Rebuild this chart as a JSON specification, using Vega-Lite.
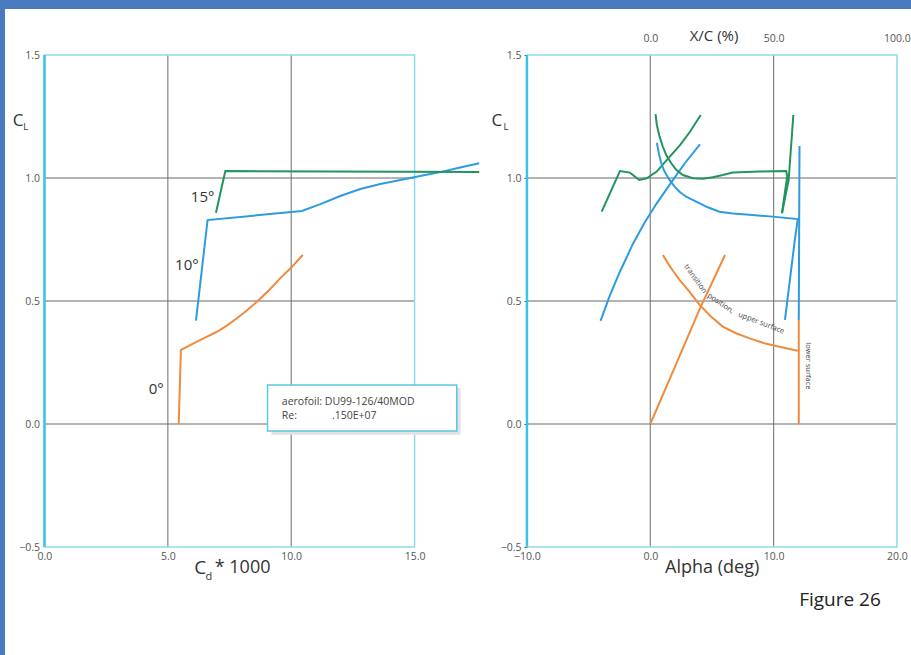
{
  "$schema": "https://vega.github.io/schema/vega-lite/v6.json",
  "autosize": {"type": "none"},
  "width": 906,
  "height": 646,
  "padding": {"left": 5, "top": 9, "right": 0, "bottom": 0},
  "background": "#4a7bbf",
  "view": {"fill": "white", "stroke": null},
  "config": {
    "axis": {"labelFont": "Open Sans", "labelColor": "#555", "labelFontSize": 10.5, "title": null, "grid": false, "domain": false},
    "text": {"font": "Open Sans", "color": "#333"}
  },
  "resolve": {"scale": {"x": "independent", "y": "independent"}, "axis": {"x": "independent", "y": "independent"}},
  "layer": [
    {
      "encoding": {
        "x": {"field": "x", "type": "quantitative", "scale": {"domain": [-1.6, 35.12], "nice": false, "zero": false},
              "axis": {"orient": "bottom", "offset": -108, "values": [0, 5, 10, 15], "format": ".1f", "ticks": false, "labelPadding": 4}},
        "y": {"field": "y", "type": "quantitative", "scale": {"domain": [-0.939, 1.687], "nice": false, "zero": false},
              "axis": {"orient": "left", "offset": -39.5, "values": [-0.5, 0, 0.5, 1, 1.5], "format": ".1f", "ticks": false, "labelPadding": 5}}
      },
      "layer": [
        {"data": {"values": [{"x": 5, "y": -0.5, "y2": 1.5}, {"x": 10, "y": -0.5, "y2": 1.5}]},
         "mark": {"type": "rule", "color": "#858585", "strokeWidth": 1.2},
         "encoding": {"y2": {"field": "y2"}}},
        {"data": {"values": [{"y": 0, "x": 0, "x2": 15}, {"y": 0.5, "x": 0, "x2": 15}, {"y": 1, "x": 0, "x2": 15}]},
         "mark": {"type": "rule", "color": "#6a6a6a", "strokeWidth": 1.1},
         "encoding": {"x2": {"field": "x2"}}},
        {"data": {"values": [{"x": 0, "x2": 15, "y": -0.5, "y2": 1.5}]},
         "mark": {"type": "rect", "fill": "transparent", "stroke": "#8fdbeb", "strokeWidth": 1.5},
         "encoding": {"x2": {"field": "x2"}, "y2": {"field": "y2"}}},
        {"data": {"values": [{"x": 0, "y": -0.5, "y2": 1.5}]},
         "mark": {"type": "rule", "color": "#3cc2e8", "strokeWidth": 2.5},
         "encoding": {"y2": {"field": "y2"}}},
        {"data": {"values": [{"x": 9.2, "x2": 16.86, "y": 0.146, "y2": -0.044}]},
         "mark": {"type": "rect", "fill": "#e2e2e2"},
         "encoding": {"x2": {"field": "x2"}, "y2": {"field": "y2"}}},
        {"data": {"values": [{"x": 9.04, "x2": 16.71, "y": 0.159, "y2": -0.028}]},
         "mark": {"type": "rect", "fill": "white", "stroke": "#5cc6e6", "strokeWidth": 1.5},
         "encoding": {"x2": {"field": "x2"}, "y2": {"field": "y2"}}},
        {"data": {"values": [
          {"s": "o", "x": 5.44, "y": 0}, {"s": "o", "x": 5.53, "y": 0.301}, {"s": "o", "x": 5.77, "y": 0.314},
          {"s": "o", "x": 6.04, "y": 0.328}, {"s": "o", "x": 6.51, "y": 0.351}, {"s": "o", "x": 6.99, "y": 0.375},
          {"s": "o", "x": 7.39, "y": 0.4}, {"s": "o", "x": 7.8, "y": 0.43}, {"s": "o", "x": 8.2, "y": 0.461},
          {"s": "o", "x": 8.61, "y": 0.497}, {"s": "o", "x": 9.08, "y": 0.542}, {"s": "o", "x": 9.55, "y": 0.592},
          {"s": "o", "x": 10.03, "y": 0.639}, {"s": "o", "x": 10.47, "y": 0.687},
          {"s": "b", "x": 6.14, "y": 0.42}, {"s": "b", "x": 6.61, "y": 0.829}, {"s": "b", "x": 10.43, "y": 0.866},
          {"s": "b", "x": 11.18, "y": 0.894}, {"s": "b", "x": 11.99, "y": 0.927}, {"s": "b", "x": 12.8, "y": 0.955},
          {"s": "b", "x": 13.61, "y": 0.976}, {"s": "b", "x": 14.42, "y": 0.992}, {"s": "b", "x": 15.23, "y": 1.008},
          {"s": "b", "x": 16.04, "y": 1.024}, {"s": "b", "x": 16.85, "y": 1.043}, {"s": "b", "x": 17.62, "y": 1.06},
          {"s": "g", "x": 6.95, "y": 0.859}, {"s": "g", "x": 7.33, "y": 1.028}, {"s": "g", "x": 17.62, "y": 1.024}
        ]},
         "mark": {"type": "line", "strokeWidth": 2},
         "encoding": {"color": {"field": "s", "type": "nominal", "scale": {"domain": ["g", "b", "o"], "range": ["#22945e", "#2d9be0", "#f08a3c"]}, "legend": null},
                      "order": {"value": null}}},
        {"data": {"values": [{"x": 6.41, "y": 0.924, "t": "15°"}, {"x": 5.77, "y": 0.646, "t": "10°"}, {"x": 4.53, "y": 0.142, "t": "0°"}]},
         "mark": {"type": "text", "fontSize": 15, "align": "center", "baseline": "middle"},
         "encoding": {"text": {"field": "t"}}},
        {"data": {"values": [{"x": 9.62, "y": 0.0907, "t": "aerofoil: DU99-126/40MOD"}, {"x": 9.62, "y": 0.0325, "t": "Re:"}, {"x": 11.65, "y": 0.0325, "t": ".150E+07"}]},
         "mark": {"type": "text", "fontSize": 10.5, "align": "left", "baseline": "middle", "color": "#444"},
         "encoding": {"text": {"field": "t"}}},
        {"data": {"values": [{"x": -1.07, "y": 1.232, "t": "C"}]},
         "mark": {"type": "text", "fontSize": 17, "align": "center", "baseline": "middle"},
         "encoding": {"text": {"field": "t"}}},
        {"data": {"values": [{"x": -0.76, "y": 1.208, "t": "L"}]},
         "mark": {"type": "text", "fontSize": 9.5, "align": "center", "baseline": "middle"},
         "encoding": {"text": {"field": "t"}}},
        {"data": {"values": [{"x": 6.31, "y": -0.587, "t": "C"}]},
         "mark": {"type": "text", "fontSize": 19, "align": "center", "baseline": "middle"},
         "encoding": {"text": {"field": "t"}}},
        {"data": {"values": [{"x": 6.66, "y": -0.62, "t": "d"}]},
         "mark": {"type": "text", "fontSize": 11, "align": "center", "baseline": "middle"},
         "encoding": {"text": {"field": "t"}}},
        {"data": {"values": [{"x": 6.9, "y": -0.587, "t": "* 1000"}]},
         "mark": {"type": "text", "fontSize": 18, "align": "left", "baseline": "middle"},
         "encoding": {"text": {"field": "t"}}}
      ]
    },
    {
      "encoding": {
        "x": {"field": "x", "type": "quantitative", "scale": {"domain": [-52.32, 21.14], "nice": false, "zero": false},
              "axis": {"orient": "bottom", "offset": -108, "values": [-10, 0, 10, 20], "format": ".1f", "ticks": false, "labelPadding": 4}},
        "y": {"field": "y", "type": "quantitative", "scale": {"domain": [-0.939, 1.687], "nice": false, "zero": false},
              "axis": {"orient": "left", "offset": -522, "values": [-0.5, 0, 0.5, 1, 1.5], "format": ".1f", "ticks": true, "tickSize": 3, "tickColor": "#555", "labelPadding": 3}}
      },
      "layer": [
        {"data": {"values": [{"x": 0, "y": -0.5, "y2": 1.5}, {"x": 10, "y": -0.5, "y2": 1.5}]},
         "mark": {"type": "rule", "color": "#858585", "strokeWidth": 1.2},
         "encoding": {"y2": {"field": "y2"}}},
        {"data": {"values": [{"y": 0, "x": -10, "x2": 20}, {"y": 0.5, "x": -10, "x2": 20}, {"y": 1, "x": -10, "x2": 20}]},
         "mark": {"type": "rule", "color": "#6a6a6a", "strokeWidth": 1.1},
         "encoding": {"x2": {"field": "x2"}}},
        {"data": {"values": [{"x": -10, "x2": 20, "y": -0.5, "y2": 1.5}]},
         "mark": {"type": "rect", "fill": "transparent", "stroke": "#8fdbeb", "strokeWidth": 1.5},
         "encoding": {"x2": {"field": "x2"}, "y2": {"field": "y2"}}},
        {"data": {"values": [{"x": -10, "y": -0.5, "y2": 1.5}]},
         "mark": {"type": "rule", "color": "#3cc2e8", "strokeWidth": 2.5},
         "encoding": {"y2": {"field": "y2"}}},
        {"data": {"values": [
          {"s": "o", "x": 0, "y": 0}, {"s": "o", "x": 2, "y": 0.232}, {"s": "o", "x": 4.03, "y": 0.47}, {"s": "o", "x": 6.06, "y": 0.687},
          {"s": "b", "x": -4.03, "y": 0.419}, {"s": "b", "x": -3.3, "y": 0.52}, {"s": "b", "x": -2.5, "y": 0.615},
          {"s": "b", "x": -1.38, "y": 0.735}, {"s": "b", "x": -0.5, "y": 0.815}, {"s": "b", "x": 0.5, "y": 0.895},
          {"s": "b", "x": 1.6, "y": 0.975}, {"s": "b", "x": 2.8, "y": 1.06}, {"s": "b", "x": 4.03, "y": 1.137},
          {"s": "g", "x": -3.94, "y": 0.863}, {"s": "g", "x": -2.46, "y": 1.028}, {"s": "g", "x": -1.65, "y": 1.022},
          {"s": "g", "x": -0.89, "y": 0.992}, {"s": "g", "x": -0.29, "y": 0.999}, {"s": "g", "x": 0.52, "y": 1.026},
          {"s": "g", "x": 1.33, "y": 1.073}, {"s": "g", "x": 2.41, "y": 1.134}, {"s": "g", "x": 3.22, "y": 1.188},
          {"s": "g", "x": 4.09, "y": 1.256}
        ]},
         "mark": {"type": "line", "strokeWidth": 2},
         "encoding": {"color": {"field": "s", "type": "nominal", "scale": {"domain": ["g", "b", "o"], "range": ["#22945e", "#2d9be0", "#f08a3c"]}, "legend": null},
                      "order": {"value": null}}},
        {"data": {"values": [{"x": -12.43, "y": 1.232, "t": "C"}]},
         "mark": {"type": "text", "fontSize": 17, "align": "center", "baseline": "middle"},
         "encoding": {"text": {"field": "t"}}},
        {"data": {"values": [{"x": -11.7, "y": 1.208, "t": "L"}]},
         "mark": {"type": "text", "fontSize": 9.5, "align": "center", "baseline": "middle"},
         "encoding": {"text": {"field": "t"}}},
        {"data": {"values": [{"x": 5.02, "y": -0.585, "t": "Alpha (deg)"}]},
         "mark": {"type": "text", "fontSize": 18, "align": "center", "baseline": "middle"},
         "encoding": {"text": {"field": "t"}}},
        {"data": {"values": [{"x": 5.17, "y": 1.577, "t": "X/C (%)"}]},
         "mark": {"type": "text", "fontSize": 15, "align": "center", "baseline": "middle"},
         "encoding": {"text": {"field": "t"}}},
        {"data": {"values": [{"x": 15.38, "y": -0.715, "t": "Figure 26"}]},
         "mark": {"type": "text", "fontSize": 19, "align": "center", "baseline": "middle", "color": "#222"},
         "encoding": {"text": {"field": "t"}}},
        {"data": {"values": [{"x": 3.65, "y": 0.59, "t": "transition"}]},
         "mark": {"type": "text", "fontSize": 7.5, "angle": 54, "align": "center", "baseline": "middle", "color": "#444"},
         "encoding": {"text": {"field": "t"}}},
        {"data": {"values": [{"x": 5.7, "y": 0.49, "t": "position,"}]},
         "mark": {"type": "text", "fontSize": 7.5, "angle": 34, "align": "center", "baseline": "middle", "color": "#444"},
         "encoding": {"text": {"field": "t"}}},
        {"data": {"values": [{"x": 9.0, "y": 0.41, "t": "upper surface"}]},
         "mark": {"type": "text", "fontSize": 7.5, "angle": 21, "align": "center", "baseline": "middle", "color": "#444"},
         "encoding": {"text": {"field": "t"}}},
        {"data": {"values": [{"x": 12.81, "y": 0.236, "t": "lower surface"}]},
         "mark": {"type": "text", "fontSize": 7.5, "angle": 90, "align": "center", "baseline": "middle", "color": "#444"},
         "encoding": {"text": {"field": "t"}}}
      ]
    },
    {
      "encoding": {
        "x": {"field": "x", "type": "quantitative", "scale": {"domain": [-261.6, 105.7], "nice": false, "zero": false},
              "axis": {"orient": "top", "offset": -46, "values": [0, 50, 100], "format": ".1f", "ticks": false, "labelPadding": 12}},
        "y": {"field": "y", "type": "quantitative", "scale": {"domain": [-0.939, 1.687], "nice": false, "zero": false}, "axis": null}
      },
      "layer": [
        {"data": {"values": [
          {"s": "o", "k": "ou", "x": 5.14, "y": 0.687}, {"s": "o", "k": "ou", "x": 7.16, "y": 0.653}, {"s": "o", "k": "ou", "x": 9.19, "y": 0.623},
          {"s": "o", "k": "ou", "x": 11.9, "y": 0.585}, {"s": "o", "k": "ou", "x": 15.3, "y": 0.545}, {"s": "o", "k": "ou", "x": 20.0, "y": 0.484},
          {"s": "o", "k": "ou", "x": 24.7, "y": 0.436}, {"s": "o", "k": "ou", "x": 29.4, "y": 0.396}, {"s": "o", "k": "ou", "x": 34.8, "y": 0.369},
          {"s": "o", "k": "ou", "x": 40.3, "y": 0.348}, {"s": "o", "k": "ou", "x": 46.3, "y": 0.328}, {"s": "o", "k": "ou", "x": 52.3, "y": 0.314},
          {"s": "o", "k": "ou", "x": 59.8, "y": 0.298},
          {"s": "o", "k": "ol", "x": 60.2, "y": 0.423}, {"s": "o", "k": "ol", "x": 60.2, "y": 0},
          {"s": "b", "k": "bu", "x": 2.7, "y": 1.143}, {"s": "b", "k": "bu", "x": 3.48, "y": 1.1}, {"s": "b", "k": "bu", "x": 4.45, "y": 1.06},
          {"s": "b", "k": "bu", "x": 5.79, "y": 1.026}, {"s": "b", "k": "bu", "x": 7.81, "y": 0.992}, {"s": "b", "k": "bu", "x": 9.84, "y": 0.965},
          {"s": "b", "k": "bu", "x": 11.86, "y": 0.944}, {"s": "b", "k": "bu", "x": 14.57, "y": 0.924}, {"s": "b", "k": "bu", "x": 18.62, "y": 0.904},
          {"s": "b", "k": "bu", "x": 23.3, "y": 0.881}, {"s": "b", "k": "bu", "x": 28.06, "y": 0.863}, {"s": "b", "k": "bu", "x": 33.4, "y": 0.856},
          {"s": "b", "k": "bu", "x": 38.9, "y": 0.852}, {"s": "b", "k": "bu", "x": 49.6, "y": 0.843}, {"s": "b", "k": "bu", "x": 59.8, "y": 0.833},
          {"s": "b", "k": "bu", "x": 58.6, "y": 0.748}, {"s": "b", "k": "bu", "x": 54.6, "y": 0.423},
          {"s": "b", "k": "bl", "x": 60.2, "y": 0.423}, {"s": "b", "k": "bl", "x": 60.5, "y": 1.13},
          {"s": "g", "k": "gu", "x": 2.14, "y": 1.26}, {"s": "g", "k": "gu", "x": 2.67, "y": 1.215}, {"s": "g", "k": "gu", "x": 3.77, "y": 1.168},
          {"s": "g", "k": "gu", "x": 5.1, "y": 1.127}, {"s": "g", "k": "gu", "x": 6.48, "y": 1.093}, {"s": "g", "k": "gu", "x": 8.5, "y": 1.06},
          {"s": "g", "k": "gu", "x": 10.53, "y": 1.033}, {"s": "g", "k": "gu", "x": 13.2, "y": 1.012}, {"s": "g", "k": "gu", "x": 17.25, "y": 0.999},
          {"s": "g", "k": "gu", "x": 21.3, "y": 0.997}, {"s": "g", "k": "gu", "x": 25.3, "y": 1.003}, {"s": "g", "k": "gu", "x": 29.4, "y": 1.012},
          {"s": "g", "k": "gu", "x": 33.4, "y": 1.022}, {"s": "g", "k": "gu", "x": 44.3, "y": 1.026}, {"s": "g", "k": "gu", "x": 55.1, "y": 1.028},
          {"s": "g", "k": "gu", "x": 56.0, "y": 0.985}, {"s": "g", "k": "gu", "x": 55.4, "y": 1.0}, {"s": "g", "k": "gu", "x": 53.4, "y": 0.857},
          {"s": "g", "k": "gl", "x": 53.4, "y": 0.857}, {"s": "g", "k": "gl", "x": 56.1, "y": 0.992}, {"s": "g", "k": "gl", "x": 58.0, "y": 1.256}
        ]},
         "mark": {"type": "line", "strokeWidth": 2},
         "encoding": {"color": {"field": "s", "type": "nominal", "scale": {"domain": ["g", "b", "o"], "range": ["#22945e", "#2d9be0", "#f08a3c"]}, "legend": null},
                      "detail": {"field": "k"},
                      "order": {"value": null}}}
      ]
    }
  ]
}
